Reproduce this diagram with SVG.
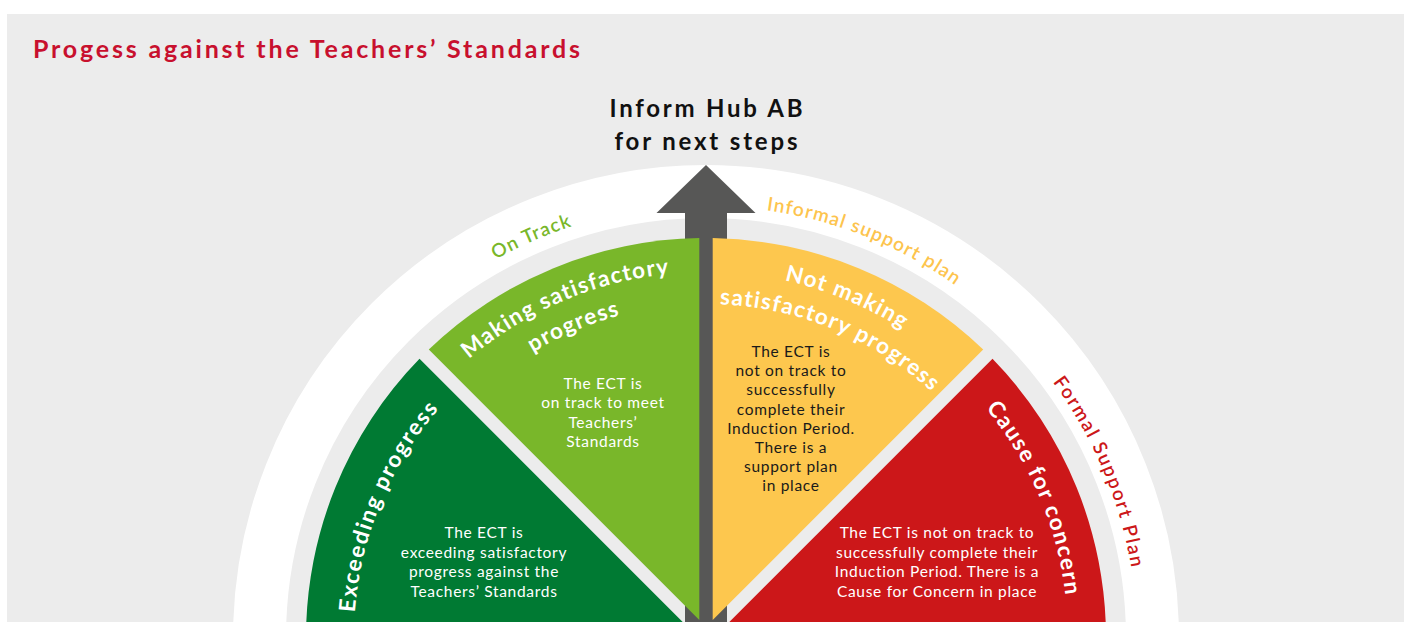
<svg xmlns="http://www.w3.org/2000/svg" width="1408" height="622" viewBox="0 0 1408 622">
<style>
text{font-family:Lato,"Open Sans","Liberation Sans",sans-serif}
.title{fill:#c8102e;font-size:25px;font-weight:700}
.hub{fill:#111;font-size:24px;font-weight:700;text-anchor:middle}
.ring{font-size:19px;font-weight:600;letter-spacing:1.2px}
.head{fill:#fff;font-size:22.5px;font-weight:700;letter-spacing:1.3px}
.body{font-size:15.5px;text-anchor:middle;letter-spacing:0.7px}
.w{fill:#fff}
.k{fill:#1a1a1a}
</style>
<defs>
<path id="pOnTrack" d="M318.5,444.8 A433,433 0 0 1 829.0,222.8"/>
<path id="pInformal" d="M570.4,227.9 A432,432 0 0 1 1086.4,433.2"/>
<path id="pFormal" d="M908.4,257.5 A431,431 0 0 1 1115.9,771.2"/>
<path id="pMaking1" d="M342.7,593.4 A366,366 0 0 1 926.3,345.7"/>
<path id="pMaking2" d="M374.5,597.3 A334,334 0 0 1 907.0,371.3"/>
<path id="pNot1" d="M483.2,347.6 A366,366 0 0 1 1068.9,590.2"/>
<path id="pNot2" d="M502.7,373.0 A334,334 0 0 1 1037.1,594.4"/>
<path id="pExceed" d="M426.7,852.3 A352,352 0 0 1 660.1,289.0"/>
<path id="pCause" d="M750.1,278.7 A362,362 0 0 1 995.1,855.9"/>
</defs>
<rect x="0" y="0" width="1408" height="622" fill="#ffffff"/>
<rect x="7" y="14" width="1397" height="608" fill="#ececec"/>
<text class="title" x="33" y="58" textLength="547" lengthAdjust="spacing">Progess against the Teachers’ Standards</text>
<text class="hub" x="706" y="117" textLength="193" lengthAdjust="spacing">Inform Hub AB</text>
<text class="hub" x="706" y="150" textLength="183" lengthAdjust="spacing">for next steps</text>
<g id="ring">
<circle cx="706" cy="638" r="446.5" fill="none" stroke="#ffffff" stroke-width="53"/>
<text class="ring" fill="#79b72a"><textPath href="#pOnTrack" startOffset="50%" text-anchor="middle">On Track</textPath></text>
<text class="ring" fill="#fdc44d"><textPath href="#pInformal" startOffset="50%" text-anchor="middle">Informal support plan</textPath></text>
<text class="ring" fill="#cc1719" style="letter-spacing:1.8px"><textPath href="#pFormal" startOffset="49%" text-anchor="middle">Formal Support Plan</textPath></text>
</g>
<g id="exceeding">
<path d="M705.7,645 L419.5,358.8 A400,400 0 0 0 306,638 L306,645 Z" fill="#007a33"/>
<text class="head" style="letter-spacing:1.8px"><textPath href="#pExceed" startOffset="50%" text-anchor="middle">Exceeding progress</textPath></text>
<text class="body w" x="484" y="538"><tspan x="484">The ECT is</tspan><tspan x="484" dy="19.5">exceeding satisfactory</tspan><tspan x="484" dy="19.5">progress against the</tspan><tspan x="484" dy="19.5">Teachers’ Standards</tspan></text>
</g>
<g id="cause">
<path d="M706.3,645 L992.5,358.8 A400,400 0 0 1 1106,638 L1106,645 Z" fill="#cc1719"/>
<text class="head" style="letter-spacing:1.6px"><textPath href="#pCause" startOffset="50%" text-anchor="middle">Cause for concern</textPath></text>
<text class="body w" x="937" y="538"><tspan x="937">The ECT is not on track to</tspan><tspan x="937" dy="19.5">successfully complete their</tspan><tspan x="937" dy="19.5">Induction Period. There is a</tspan><tspan x="937" dy="19.5">Cause for Concern in place</tspan></text>
</g>
<g id="connectors">
<path d="M706,165 L755.5,213 L727,213 L727,660 L685,660 L685,213 L656.5,213 Z" fill="#575756"/>
</g>
<g id="making">
<path d="M699.3,620 L699.3,238.06 A400,400 0 0 0 428.8,349.5 Z" fill="#79b72a"/>
<text class="head"><textPath href="#pMaking1" startOffset="50%" text-anchor="middle">Making satisfactory</textPath></text>
<text class="head"><textPath href="#pMaking2" startOffset="50%" text-anchor="middle">progress</textPath></text>
<text class="body w" x="603" y="389"><tspan x="603">The ECT is</tspan><tspan x="603" dy="19.3">on track to meet</tspan><tspan x="603" dy="19.3">Teachers’</tspan><tspan x="603" dy="19.3">Standards</tspan></text>
</g>
<g id="notmaking">
<path d="M712.7,620 L712.7,238.06 A400,400 0 0 1 983.2,349.5 Z" fill="#fdc74e"/>
<text class="head"><textPath href="#pNot1" startOffset="50%" text-anchor="middle">Not making</textPath></text>
<text class="head"><textPath href="#pNot2" startOffset="50%" text-anchor="middle">satisfactory progress</textPath></text>
<text class="body k" x="791" y="357"><tspan x="791">The ECT is</tspan><tspan x="791" dy="19.2">not on track to</tspan><tspan x="791" dy="19.2">successfully</tspan><tspan x="791" dy="19.2">complete their</tspan><tspan x="791" dy="19.2">Induction Period.</tspan><tspan x="791" dy="19.2">There is a</tspan><tspan x="791" dy="19.2">support plan</tspan><tspan x="791" dy="19.2">in place</tspan></text>
</g>
</svg>
